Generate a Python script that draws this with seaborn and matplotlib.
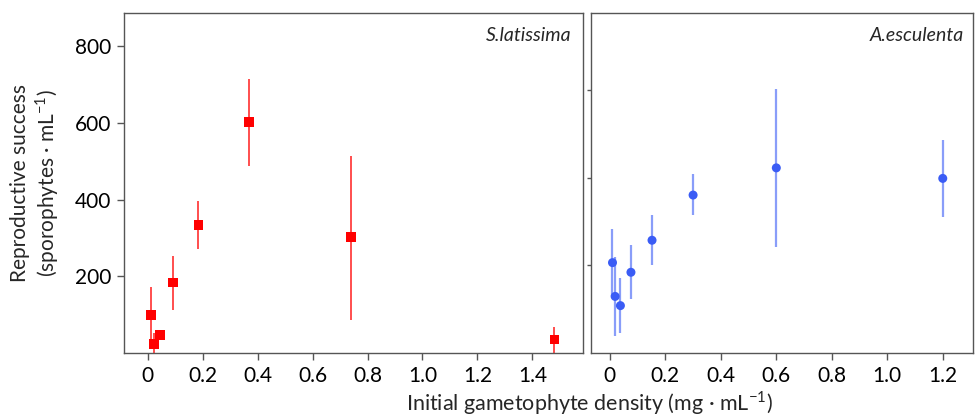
import pandas as pd
import matplotlib
matplotlib.use("Agg")
import matplotlib.pyplot as plt
import seaborn as sns

# S. latissima (left panel)
sl_density = [0.012, 0.023, 0.046, 0.092, 0.185, 0.37, 0.74, 1.48]
sl_success = [100, 24, 46, 184, 334, 603, 302, 35]
sl_low = [18, 0, 38, 113, 271, 489, 87, 0]
sl_high = [172, 52, 54, 254, 397, 716, 515, 68]

# A. esculenta (right panel)
ae_density = [0.0095, 0.019, 0.038, 0.076, 0.152, 0.30, 0.60, 1.20]
ae_success = [206, 129, 108, 184, 257, 360, 422, 398]
ae_low = [130, 38, 46, 122, 200, 314, 242, 309]
ae_high = [282, 219, 171, 247, 315, 407, 602, 486]

xticks_left = [0, 0.2, 0.4, 0.6, 0.8, 1.0, 1.2, 1.4]
xticks_right = [0, 0.2, 0.4, 0.6, 0.8, 1.0, 1.2]
yticks = [200, 400, 600, 800]

sns.set_style("ticks")
plt.rcParams["font.family"] = ["Lato", "DejaVu Sans"]
plt.rcParams["mathtext.fontset"] = "custom"
plt.rcParams["mathtext.rm"] = "Lato"

fig = plt.figure(figsize=(9.76, 4.17), dpi=100)
ax1 = fig.add_axes([124 / 976, 64 / 417, 459 / 976, 340 / 417])
ax2 = fig.add_axes([591 / 976, 64 / 417, 382 / 976, 340 / 417])

sl = pd.DataFrame({"x": sl_density, "y": sl_success, "lo": sl_low, "hi": sl_high})
ae = pd.DataFrame({"x": ae_density, "y": ae_success, "lo": ae_low, "hi": ae_high})

ax1.vlines(sl["x"], sl["lo"], sl["hi"], color="#ff0000", alpha=0.75, lw=1.3, zorder=2)
sns.scatterplot(data=sl, x="x", y="y", marker="s", s=50, color="#ff0000",
                edgecolor="none", ax=ax1, zorder=3)

ax2.vlines(ae["x"], ae["lo"], ae["hi"], color="#3a5cf5", alpha=0.6, lw=1.6, zorder=2)
sns.scatterplot(data=ae, x="x", y="y", marker="o", s=42, color="#3a5cf5",
                edgecolor="none", ax=ax2, zorder=3)

ax1.set_xlim(-0.086, 1.584)
ax1.set_ylim(0, 887)
ax2.set_xlim(-0.068, 1.309)
ax2.set_ylim(0, 775)

ax1.set_xticks(xticks_left)
ax1.set_xticklabels(["0", "0.2", "0.4", "0.6", "0.8", "1.0", "1.2", "1.4"])
ax2.set_xticks(xticks_right)
ax2.set_xticklabels(["0", "0.2", "0.4", "0.6", "0.8", "1.0", "1.2"])
ax1.set_yticks(yticks)
ax2.set_yticks([200, 400, 600])
ax2.set_yticklabels([])

for ax in (ax1, ax2):
    for side in ["top", "right", "left", "bottom"]:
        ax.spines[side].set_visible(True)
        ax.spines[side].set_color("#555555")
        ax.spines[side].set_linewidth(1.0)
    ax.tick_params(axis="both", direction="out", length=5, width=1.0,
                   color="#555555", labelsize=15, labelcolor="black", pad=4)
    ax.set_xlabel("")
    ax.set_ylabel("")
ax2.tick_params(axis="y", length=3)

ax1.set_ylabel("Reproductive success\n(sporophytes · mL$^{-1}$)", fontsize=15,
               linespacing=1.15, labelpad=10)
fig.text(0.604, 0.0, "Initial gametophyte density (mg · mL$^{-1}$)",
         ha="center", va="bottom", fontsize=15.5)

ax1.text(0.975, 0.935, "S.latissima", transform=ax1.transAxes, ha="right",
         va="center", fontsize=14, style="italic")
ax2.text(0.975, 0.935, "A.esculenta", transform=ax2.transAxes, ha="right",
         va="center", fontsize=14, style="italic")

fig.savefig("out.png", dpi=100)
